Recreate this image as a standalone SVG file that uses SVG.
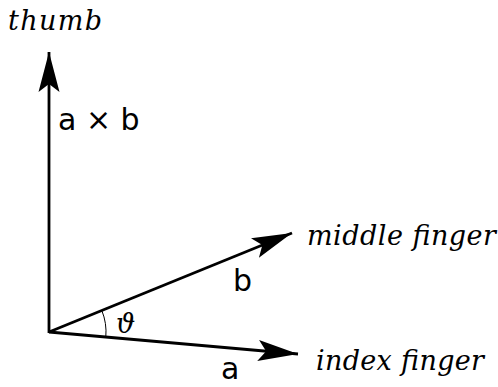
<svg xmlns="http://www.w3.org/2000/svg" width="498" height="387" viewBox="0 0 498 387">
<style>
.ax{stroke:#000;stroke-width:2.8;fill:none}
.it{font-family:"DejaVu Serif","Liberation Serif",serif;font-style:italic;font-size:27px;fill:#000}
.sn{font-family:"DejaVu Sans","Liberation Sans",sans-serif;font-size:30px;fill:#000}
</style>
<defs>
<marker id="ah" markerWidth="40" markerHeight="24" refX="40" refY="12" orient="auto" markerUnits="userSpaceOnUse" viewBox="0 0 40 24">
<path d="M0,1.5 L40,12 L0,22.5 L8,12 Z" fill="#000"/>
</marker>
</defs>
<g id="connectors">
<line class="ax" x1="49" y1="333" x2="49" y2="52" marker-end="url(#ah)"/>
<line class="ax" x1="49" y1="332" x2="298" y2="354" marker-end="url(#ah)"/>
<line class="ax" x1="49" y1="332" x2="292" y2="233" marker-end="url(#ah)"/>
<path d="M101.8,310.5 A57,57 0 0 1 105.8,337" stroke="#000" stroke-width="1" fill="none"/>
</g>
<g id="thumb"><text class="it" x="8" y="30" textLength="94">thumb</text></g>
<g id="axb"><text class="sn" x="58" y="130">a × b</text></g>
<g id="middle"><text class="it" x="307" y="245" textLength="189">middle finger</text></g>
<g id="b"><text class="sn" x="233" y="291">b</text></g>
<g id="theta"><text class="it" x="116" y="333" font-size="24">ϑ</text></g>
<g id="index"><text class="it" x="316" y="370" textLength="168">index finger</text></g>
<g id="a"><text class="sn" x="221" y="379">a</text></g>
</svg>
